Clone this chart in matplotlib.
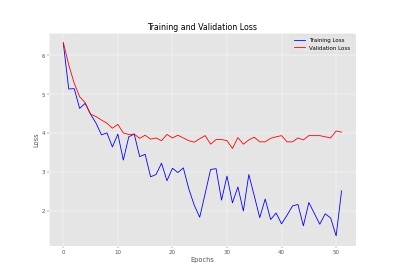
import numpy as np
import matplotlib
matplotlib.use("Agg")
import matplotlib.pyplot as plt

plt.style.use("ggplot")

# loss values per epoch
train_loss = [6.31, 5.13, 5.14, 4.63, 4.76, 4.48, 4.25, 3.95, 4.0, 3.64,
              3.97, 3.3, 3.9, 3.97, 3.39, 3.45, 2.87, 2.93, 3.22, 2.77,
              3.09, 2.98, 3.1, 2.56, 2.14, 1.83, 2.44, 3.06, 3.08, 2.27,
              2.89, 2.2, 2.61, 1.99, 2.93, 2.38, 1.82, 2.3, 1.77, 1.94,
              1.66, 1.88, 2.12, 2.16, 1.61, 2.21, 1.93, 1.65, 1.92, 1.81,
              1.35, 2.51]
val_loss = [6.33, 5.75, 5.28, 4.93, 4.78, 4.48, 4.42, 4.33, 4.25, 4.12,
            4.22, 4.0, 3.96, 3.97, 3.86, 3.94, 3.84, 3.87, 3.8, 3.96,
            3.87, 3.94, 3.87, 3.8, 3.76, 3.85, 3.93, 3.71, 3.83, 3.83,
            3.8, 3.6, 3.88, 3.71, 3.82, 3.89, 3.77, 3.77, 3.86, 3.9,
            3.93, 3.77, 3.77, 3.87, 3.82, 3.93, 3.93, 3.93, 3.9, 3.87,
            4.05, 4.02]
epochs = np.arange(len(train_loss))

fig, ax = plt.subplots(figsize=(10, 7), dpi=39.5)
ax.plot(epochs, train_loss, "b", label="Training Loss")
ax.plot(epochs, val_loss, "r", label="Validation Loss")
ax.set_title("Training and Validation Loss")
ax.set_xlabel("Epochs")
ax.set_ylabel("Loss")
ax.legend()

fig.savefig("out.png")
